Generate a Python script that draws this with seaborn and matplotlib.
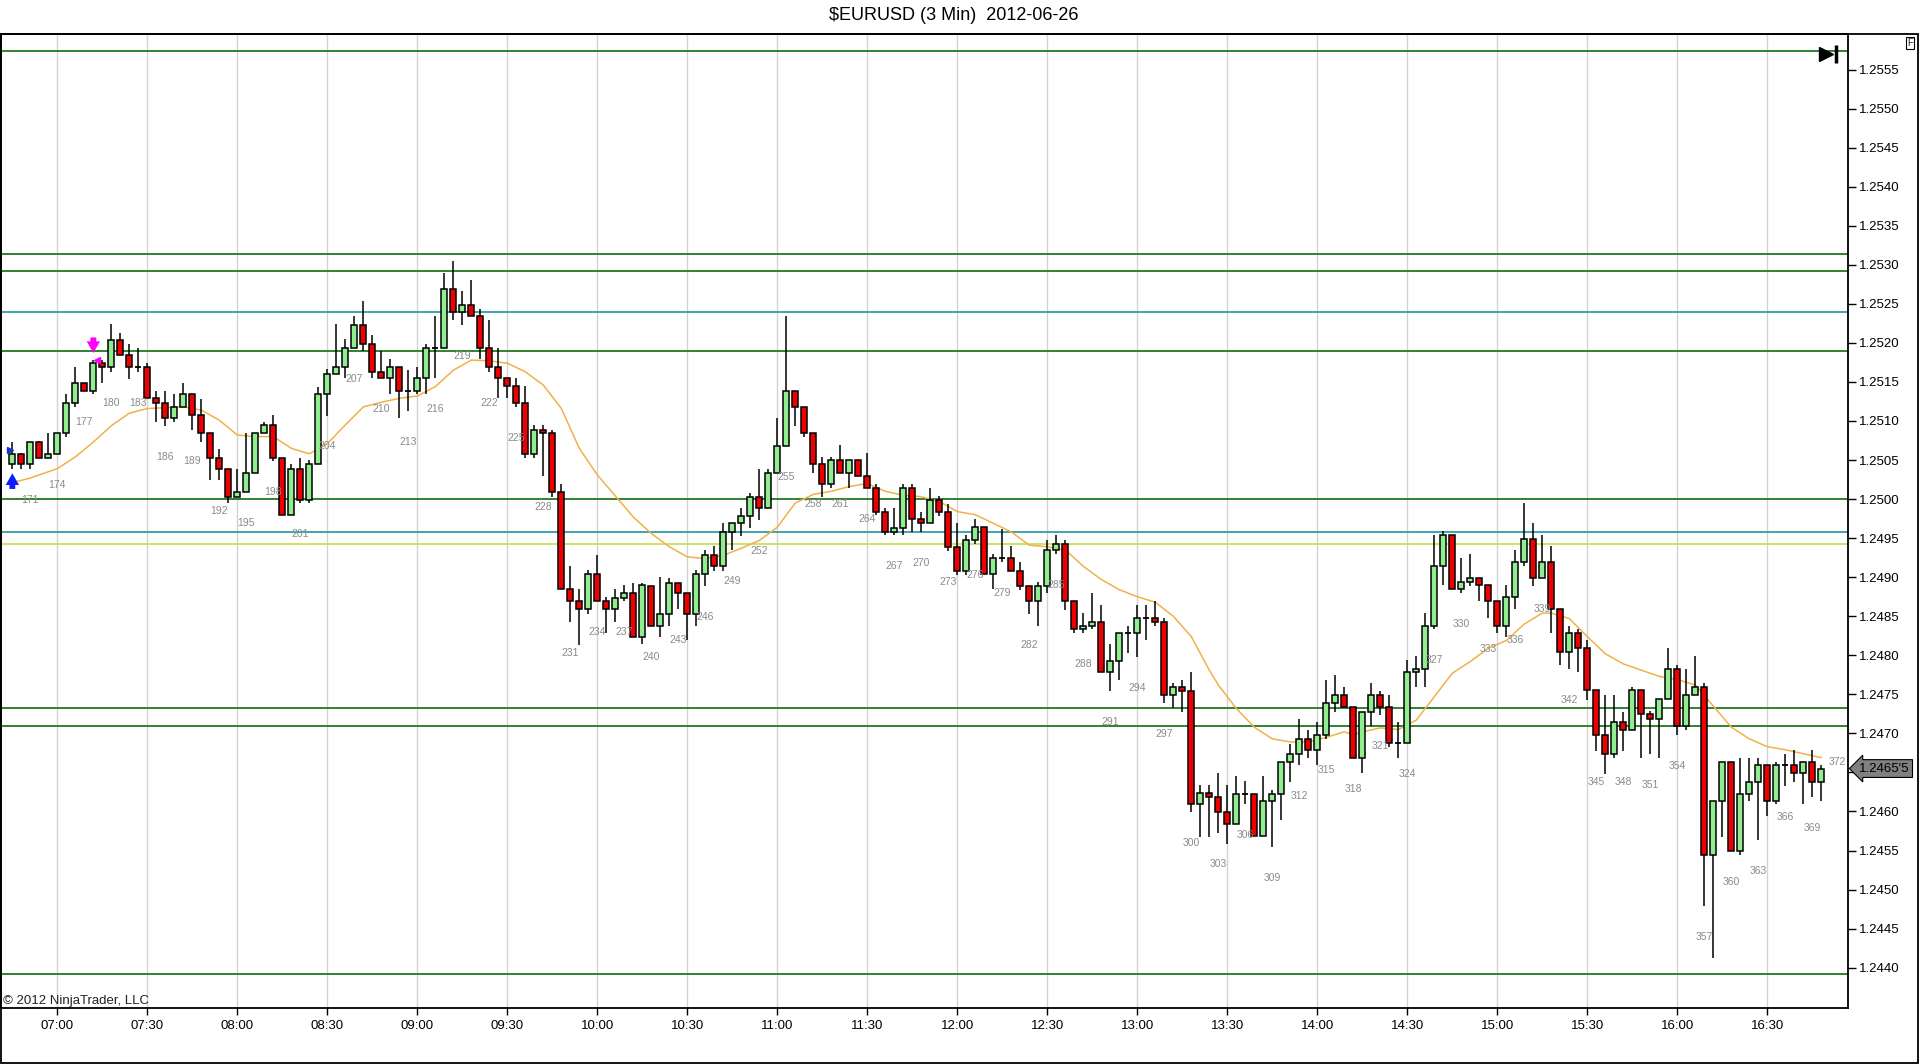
import matplotlib
matplotlib.use("Agg")
import matplotlib.pyplot as plt
from matplotlib.patches import Rectangle
from matplotlib.ticker import FixedLocator
from matplotlib.transforms import blended_transform_factory
import numpy as np
import pandas as pd
import seaborn as sns

# $EURUSD 3 min bars, 2012-06-26, bar numbers 169..370
first_bar = 169
session_start = "2012-06-26 06:45"

opens = [
    1.25045, 1.25058, 1.25045, 1.25073, 1.25053, 1.25058, 1.25084, 1.25123, 1.25149, 1.25139,
    1.25174, 1.25169, 1.25204, 1.25184, 1.25169, 1.25169, 1.25129, 1.25123, 1.25104, 1.25118,
    1.25134, 1.25108, 1.25084, 1.25053, 1.25039, 1.25003, 1.25009, 1.25034, 1.25084, 1.25095,
    1.25053, 1.24980, 1.25039, 1.24999, 1.25045, 1.25134, 1.25160, 1.25169, 1.25194, 1.25223,
    1.25199, 1.25163, 1.25155, 1.25169, 1.25139, 1.25139, 1.25155, 1.25194, 1.25194, 1.25269,
    1.25239, 1.25249, 1.25234, 1.25194, 1.25169, 1.25155, 1.25145, 1.25123, 1.25058, 1.25089,
    1.25084, 1.25009, 1.24885, 1.24869, 1.24859, 1.24904, 1.24869, 1.24859, 1.24874, 1.24880,
    1.24824, 1.24889, 1.24838, 1.24853, 1.24893, 1.24880, 1.24853, 1.24904, 1.24929, 1.24914,
    1.24958, 1.24969, 1.24978, 1.25003, 1.24989, 1.25034, 1.25068, 1.25139, 1.25118, 1.25084,
    1.25045, 1.25019, 1.25050, 1.25034, 1.25050, 1.25030, 1.25014, 1.24984, 1.24958, 1.24963,
    1.25014, 1.24974, 1.24969, 1.24999, 1.24984, 1.24939, 1.24908, 1.24948, 1.24964, 1.24904,
    1.24924, 1.24924, 1.24908, 1.24889, 1.24869, 1.24889, 1.24935, 1.24943, 1.24869, 1.24834,
    1.24838, 1.24843, 1.24779, 1.24793, 1.24829, 1.24829, 1.24848, 1.24848, 1.24843, 1.24749,
    1.24759, 1.24754, 1.24610, 1.24624, 1.24619, 1.24599, 1.24584, 1.24623, 1.24623, 1.24568,
    1.24614, 1.24623, 1.24664, 1.24673, 1.24693, 1.24679, 1.24698, 1.24739, 1.24749, 1.24734,
    1.24669, 1.24728, 1.24749, 1.24734, 1.24688, 1.24688, 1.24779, 1.24783, 1.24837, 1.24914,
    1.24954, 1.24885, 1.24894, 1.24899, 1.24890, 1.24869, 1.24837, 1.24875, 1.24919, 1.24949,
    1.24899, 1.24919, 1.24859, 1.24804, 1.24829, 1.24809, 1.24755, 1.24698, 1.24673, 1.24714,
    1.24704, 1.24755, 1.24725, 1.24719, 1.24744, 1.24783, 1.24709, 1.24749, 1.24759, 1.24544,
    1.24614, 1.24664, 1.24549, 1.24623, 1.24638, 1.24659, 1.24614, 1.24659, 1.24659, 1.24649,
    1.24664, 1.24638,
]
highs = [
    1.25073, 1.25059, 1.25073, 1.25074, 1.25084, 1.25084, 1.25134, 1.25169, 1.25149, 1.25178,
    1.25178, 1.25224, 1.25213, 1.25199, 1.25194, 1.25174, 1.25139, 1.25139, 1.25134, 1.25149,
    1.25134, 1.25128, 1.25084, 1.25064, 1.25039, 1.25039, 1.25084, 1.25084, 1.25099, 1.25108,
    1.25053, 1.25045, 1.25053, 1.25050, 1.25144, 1.25166, 1.25224, 1.25205, 1.25234, 1.25254,
    1.25210, 1.25189, 1.25179, 1.25169, 1.25165, 1.25169, 1.25199, 1.25234, 1.25289, 1.25305,
    1.25266, 1.25280, 1.25244, 1.25229, 1.25194, 1.25155, 1.25155, 1.25145, 1.25095, 1.25095,
    1.25089, 1.25019, 1.24914, 1.24885, 1.24909, 1.24929, 1.24875, 1.24885, 1.24890, 1.24893,
    1.24893, 1.24889, 1.24900, 1.24899, 1.24893, 1.24880, 1.24909, 1.24935, 1.24940, 1.24969,
    1.24969, 1.24989, 1.25008, 1.25039, 1.25039, 1.25104, 1.25234, 1.25139, 1.25118, 1.25084,
    1.25054, 1.25054, 1.25069, 1.25050, 1.25050, 1.25059, 1.25019, 1.24989, 1.24989, 1.25019,
    1.25019, 1.24984, 1.25014, 1.25004, 1.24994, 1.24969, 1.24954, 1.24974, 1.24964, 1.24930,
    1.24962, 1.24940, 1.24919, 1.24889, 1.24894, 1.24948, 1.24954, 1.24948, 1.24869, 1.24854,
    1.24880, 1.24865, 1.24814, 1.24829, 1.24838, 1.24865, 1.24864, 1.24869, 1.24848, 1.24764,
    1.24769, 1.24779, 1.24634, 1.24634, 1.24649, 1.24634, 1.24645, 1.24639, 1.24623, 1.24645,
    1.24628, 1.24664, 1.24687, 1.24719, 1.24704, 1.24714, 1.24769, 1.24775, 1.24759, 1.24734,
    1.24728, 1.24764, 1.24754, 1.24749, 1.24714, 1.24794, 1.24799, 1.24854, 1.24954, 1.24959,
    1.24954, 1.24924, 1.24930, 1.24899, 1.24890, 1.24869, 1.24890, 1.24935, 1.24995, 1.24970,
    1.24954, 1.24940, 1.24859, 1.24838, 1.24834, 1.24819, 1.24755, 1.24749, 1.24749, 1.24728,
    1.24759, 1.24755, 1.24729, 1.24744, 1.24809, 1.24788, 1.24783, 1.24799, 1.24764, 1.24614,
    1.24664, 1.24664, 1.24669, 1.24669, 1.24669, 1.24659, 1.24664, 1.24673, 1.24679, 1.24664,
    1.24679, 1.24659,
]
lows = [
    1.25039, 1.25039, 1.25039, 1.25053, 1.25053, 1.25058, 1.25079, 1.25118, 1.25139, 1.25134,
    1.25149, 1.25163, 1.25184, 1.25154, 1.25163, 1.25129, 1.25099, 1.25094, 1.25099, 1.25118,
    1.25089, 1.25073, 1.25024, 1.25024, 1.24995, 1.25003, 1.25009, 1.25034, 1.25084, 1.25049,
    1.24980, 1.24980, 1.24995, 1.24995, 1.25045, 1.25107, 1.25160, 1.25155, 1.25194, 1.25189,
    1.25155, 1.25155, 1.25134, 1.25104, 1.25113, 1.25134, 1.25134, 1.25155, 1.25194, 1.25229,
    1.25223, 1.25234, 1.25179, 1.25163, 1.25129, 1.25129, 1.25118, 1.25053, 1.25053, 1.25029,
    1.25003, 1.24885, 1.24843, 1.24813, 1.24853, 1.24869, 1.24829, 1.24843, 1.24869, 1.24824,
    1.24814, 1.24838, 1.24824, 1.24838, 1.24859, 1.24819, 1.24838, 1.24889, 1.24908, 1.24908,
    1.24935, 1.24953, 1.24963, 1.24973, 1.24989, 1.25034, 1.25068, 1.25093, 1.25079, 1.25034,
    1.25003, 1.25014, 1.25034, 1.25014, 1.25030, 1.25014, 1.24979, 1.24954, 1.24954, 1.24954,
    1.24958, 1.24958, 1.24969, 1.24978, 1.24934, 1.24903, 1.24903, 1.24943, 1.24904, 1.24885,
    1.24919, 1.24908, 1.24884, 1.24853, 1.24837, 1.24880, 1.24930, 1.24858, 1.24829, 1.24829,
    1.24834, 1.24779, 1.24754, 1.24769, 1.24803, 1.24798, 1.24819, 1.24837, 1.24739, 1.24733,
    1.24728, 1.24599, 1.24567, 1.24567, 1.24572, 1.24559, 1.24584, 1.24610, 1.24568, 1.24568,
    1.24554, 1.24589, 1.24638, 1.24659, 1.24669, 1.24659, 1.24693, 1.24728, 1.24734, 1.24669,
    1.24649, 1.24709, 1.24724, 1.24683, 1.24669, 1.24688, 1.24759, 1.24759, 1.24834, 1.24890,
    1.24885, 1.24880, 1.24889, 1.24869, 1.24848, 1.24829, 1.24824, 1.24859, 1.24914, 1.24889,
    1.24899, 1.24829, 1.24788, 1.24782, 1.24779, 1.24743, 1.24678, 1.24648, 1.24669, 1.24678,
    1.24704, 1.24669, 1.24673, 1.24669, 1.24744, 1.24698, 1.24704, 1.24749, 1.24479, 1.24413,
    1.24567, 1.24549, 1.24544, 1.24614, 1.24564, 1.24594, 1.24609, 1.24633, 1.24638, 1.24609,
    1.24619, 1.24614,
]
closes = [
    1.25058, 1.25045, 1.25073, 1.25053, 1.25058, 1.25084, 1.25123, 1.25149, 1.25139, 1.25174,
    1.25169, 1.25204, 1.25184, 1.25169, 1.25169, 1.25129, 1.25123, 1.25104, 1.25118, 1.25134,
    1.25108, 1.25084, 1.25053, 1.25039, 1.25003, 1.25009, 1.25034, 1.25084, 1.25095, 1.25053,
    1.24980, 1.25039, 1.24999, 1.25045, 1.25134, 1.25160, 1.25169, 1.25194, 1.25223, 1.25199,
    1.25163, 1.25155, 1.25169, 1.25139, 1.25139, 1.25155, 1.25194, 1.25194, 1.25269, 1.25239,
    1.25249, 1.25234, 1.25194, 1.25169, 1.25155, 1.25145, 1.25123, 1.25058, 1.25089, 1.25084,
    1.25009, 1.24885, 1.24869, 1.24859, 1.24904, 1.24869, 1.24859, 1.24874, 1.24880, 1.24824,
    1.24890, 1.24838, 1.24853, 1.24893, 1.24880, 1.24853, 1.24904, 1.24929, 1.24914, 1.24958,
    1.24969, 1.24978, 1.25003, 1.24989, 1.25034, 1.25068, 1.25139, 1.25118, 1.25084, 1.25045,
    1.25019, 1.25050, 1.25034, 1.25050, 1.25030, 1.25014, 1.24984, 1.24958, 1.24963, 1.25014,
    1.24974, 1.24969, 1.24999, 1.24984, 1.24939, 1.24908, 1.24948, 1.24964, 1.24904, 1.24924,
    1.24924, 1.24908, 1.24889, 1.24869, 1.24889, 1.24935, 1.24943, 1.24869, 1.24834, 1.24838,
    1.24843, 1.24779, 1.24793, 1.24829, 1.24829, 1.24848, 1.24848, 1.24843, 1.24749, 1.24759,
    1.24754, 1.24610, 1.24624, 1.24619, 1.24599, 1.24584, 1.24623, 1.24623, 1.24568, 1.24614,
    1.24623, 1.24664, 1.24673, 1.24693, 1.24679, 1.24698, 1.24739, 1.24749, 1.24734, 1.24669,
    1.24728, 1.24749, 1.24734, 1.24688, 1.24688, 1.24779, 1.24783, 1.24837, 1.24914, 1.24954,
    1.24885, 1.24894, 1.24899, 1.24890, 1.24869, 1.24837, 1.24875, 1.24919, 1.24949, 1.24899,
    1.24919, 1.24859, 1.24804, 1.24829, 1.24809, 1.24755, 1.24698, 1.24673, 1.24714, 1.24704,
    1.24755, 1.24725, 1.24719, 1.24744, 1.24783, 1.24709, 1.24749, 1.24759, 1.24544, 1.24614,
    1.24664, 1.24549, 1.24623, 1.24638, 1.24659, 1.24614, 1.24659, 1.24659, 1.24649, 1.24664,
    1.24638, 1.24655,
]

# moving average line at these bars
ma_bars = [
    169, 171, 173, 174, 176, 178, 180, 182, 184, 186, 188, 190, 192, 194, 196, 198, 200, 202,
    204, 206, 208, 210, 212, 214, 216, 218, 220, 222, 224, 226, 228, 230, 232, 234, 236, 238,
    240, 242, 244, 246, 248, 250, 252, 254, 256, 258, 260, 262, 264, 266, 268, 270, 272, 274,
    276, 278, 280, 282, 284, 286, 288, 290, 292, 294, 296, 298, 300, 302, 303, 305, 307, 309,
    311, 313, 315, 317, 318, 319, 321, 323, 325, 327, 329, 331, 333, 335, 337, 338, 339, 340,
    342, 344, 346, 348, 350, 352, 354, 356, 358, 360, 362, 364, 366, 368, 370,
]
ma_values = [
    1.25021, 1.25027, 1.25035, 1.25039, 1.25054, 1.25073, 1.25094, 1.25110, 1.25116, 1.25117,
    1.25118, 1.25114, 1.25101, 1.25082, 1.25080, 1.25080, 1.25065, 1.25058, 1.25071, 1.25095,
    1.25118, 1.25124, 1.25129, 1.25132, 1.25144, 1.25165, 1.25178, 1.25177, 1.25174, 1.25163,
    1.25146, 1.25116, 1.25065, 1.25031, 1.25004, 1.24977, 1.24956, 1.24939, 1.24926, 1.24924,
    1.24928, 1.24937, 1.24947, 1.24964, 1.24995, 1.25006, 1.25010, 1.25016, 1.25020, 1.25010,
    1.25005, 1.25003, 1.24997, 1.24984, 1.24980, 1.24969, 1.24958, 1.24941, 1.24939, 1.24935,
    1.24914, 1.24897, 1.24884, 1.24875, 1.24868, 1.24850, 1.24824, 1.24781, 1.24762, 1.24732,
    1.24708, 1.24693, 1.24689, 1.24689, 1.24695, 1.24702, 1.24698, 1.24702, 1.24707, 1.24705,
    1.24717, 1.24747, 1.24777, 1.24792, 1.24809, 1.24819, 1.24840, 1.24847, 1.24854, 1.24854,
    1.24847, 1.24824, 1.24802, 1.24789, 1.24781, 1.24773, 1.24769, 1.24762, 1.24735, 1.24708,
    1.24693, 1.24683, 1.24679, 1.24674, 1.24669,
]

# horizontal price levels drawn on the chart
level_prices = [1.25574, 1.25314, 1.25292, 1.25240, 1.25189, 1.25000,
                1.24958, 1.24942, 1.24732, 1.24709, 1.24392]
level_kinds = ["g", "g", "g", "t", "g", "g", "t", "y", "g", "g", "g"]
kind_colors = {"g": "#1f7a1f", "t": "#2f9ea4", "y": "#c6e35c"}

# price axis labels
price_ticks = ["1.2440", "1.2445", "1.2450", "1.2455", "1.2460", "1.2465", "1.2470", "1.2475",
               "1.2480", "1.2485", "1.2490", "1.2495", "1.2500", "1.2505", "1.2510", "1.2515",
               "1.2520", "1.2525", "1.2530", "1.2535", "1.2540", "1.2545", "1.2550", "1.2555"]

# signal markers: long entry at bar 169, short signal at bar 178
long_bar, short_bar = 169, 178

sns.set_theme(style="white")
plt.rcParams["font.family"] = ["Liberation Sans", "DejaVu Sans"]

df = pd.DataFrame({"open": opens, "high": highs, "low": lows, "close": closes})
df["bar"] = np.arange(first_bar, first_bar + len(df))
df["time"] = pd.date_range(session_start, periods=len(df), freq="3min")

W, H = 1920, 1064
fig = plt.figure(figsize=(W / 100, H / 100), dpi=100)
fig.patch.set_facecolor("white")
ax = fig.add_axes([1 / W, 56 / H, 1847 / W, 974 / H])
ax.set_facecolor("white")

# levels
for p, k in zip(level_prices, level_kinds):
    ax.axhline(p, color=kind_colors[k], lw=1.3, zorder=1)

# moving average
sns.lineplot(x=ma_bars, y=ma_values, ax=ax, color="#f2b04a", lw=1.1, zorder=1.5)

# candles
up = df.close > df.open
down = df.close < df.open
flat = df.close == df.open
body_w = 0.66
ax.vlines(df.bar, df.low, df.high, color="black", lw=1.1, zorder=2)
ax.bar(df.bar[up], (df.close - df.open)[up], bottom=df.open[up], width=body_w,
       color="#90ee90", edgecolor="black", linewidth=1.1, zorder=3)
ax.bar(df.bar[down], (df.open - df.close)[down], bottom=df.close[down], width=body_w,
       color="#ee0000", edgecolor="black", linewidth=1.1, zorder=3)
ax.hlines(df.open[flat], df.bar[flat] - body_w / 2, df.bar[flat] + body_w / 2,
          color="black", lw=1.3, zorder=3)

# bar numbers every 3rd bar
for _, r in df[df.bar % 3 == 0].iterrows():
    ax.annotate(str(r.bar), xy=(r.bar, r.low), xytext=(0, -22.3), textcoords="offset points",
                ha="center", va="center", fontsize=7.5, color="#8a8a8a", zorder=4)
last = df.iloc[-1]
ax.annotate(str(int(last.bar) + 2), xy=(last.bar, last.close), xytext=(11.3, 4.9),
            textcoords="offset points", ha="center", va="center", fontsize=7.5,
            color="#8a8a8a", annotation_clip=False)

# signal arrows
lb = df[df.bar == long_bar].iloc[0]
sb = df[df.bar == short_bar].iloc[0]
ax.annotate("", xy=(long_bar, lb.low - 0.00006), xytext=(long_bar, lb.low - 0.00026),
            arrowprops=dict(arrowstyle="simple,head_length=0.7,head_width=0.8,tail_width=0.35",
                            color="#0a1eff", lw=0, shrinkA=0, shrinkB=0, mutation_scale=12),
            zorder=5)
ax.plot([long_bar - 0.3], [lb.high - 0.0001], marker=">", color="#1a2fd0", ms=5, zorder=5)
ax.annotate("", xy=(short_bar, sb.high + 0.00009), xytext=(short_bar, sb.high + 0.00029),
            arrowprops=dict(arrowstyle="simple,head_length=0.7,head_width=0.8,tail_width=0.35",
                            color="#ff00ff", lw=0, shrinkA=0, shrinkB=0, mutation_scale=12),
            zorder=5)
ax.plot([short_bar + 0.45], [sb.close + 0.00004], marker="<", color="#ff00ff", ms=5, zorder=5)

# axes, ticks
ax.set_xlim(167.74, 372.97)
ax.set_ylim(1.243484, 1.255955)
half_hours = df[df.time.dt.minute % 30 == 0]
ax.set_xticks(half_hours.bar)
ax.set_xticklabels(half_hours.time.dt.strftime("%H:%M"))
ax.grid(axis="x", color="#d2d2d2", lw=1, zorder=0)
ax.grid(axis="y", visible=False)
ax.yaxis.tick_right()
tick_vals = [float(t) for t in price_ticks]
ax.yaxis.set_major_locator(FixedLocator(tick_vals))
# the tick hidden under the last-price tag
hidden = min(range(len(tick_vals)), key=lambda i: abs(tick_vals[i] - last.close))
ax.set_yticklabels(["" if i == hidden else t for i, t in enumerate(price_ticks)])
ax.tick_params(axis="y", right=True, left=False, length=6, width=1, pad=2,
               labelsize=9.5, colors="black")
ax.tick_params(axis="x", bottom=True, length=5, width=1, pad=3.5,
               labelsize=9.5, colors="black")
ax.set_xlabel("")
ax.set_ylabel("")
for s in ax.spines.values():
    s.set_visible(True)
    s.set_color("black")
    s.set_linewidth(1.3)

# last price tag
tag = f"{last.close:.5f}"
tag = tag[:-1] + "'" + tag[-1]
tr = blended_transform_factory(ax.transAxes, ax.transData)
ax.annotate(tag, xy=(1, last.close), xycoords=tr, xytext=(8, 0), textcoords="offset points",
            ha="left", va="center", fontsize=9.5, color="black", annotation_clip=False,
            bbox=dict(boxstyle="larrow,pad=0.22", fc="#808080", ec="black", lw=0.8),
            zorder=6)

# chart furniture
ax.text(0.001, 0.0075, "\u00a9 2012 NinjaTrader, LLC", transform=ax.transAxes,
        ha="left", va="center", fontsize=9.5, color="#222222")
ax.plot([0.988], [0.9795], marker=">", color="black", ms=10, transform=ax.transAxes,
        clip_on=False)
ax.plot([0.9935], [0.9795], marker="|", color="black", ms=13, mew=2.5,
        transform=ax.transAxes, clip_on=False)
fig.text(0.497, 1 - 16 / H, r"\$EURUSD (3 Min)  2012-06-26", ha="center", va="center",
         fontsize=13, color="black")
fig.text(1910 / W, 1 - 43 / H, "F", ha="center", va="center", fontsize=7,
         bbox=dict(boxstyle="square,pad=0.15", fc="white", ec="black", lw=0.8))
fig.add_artist(Rectangle((0.5 / W, 1 / H), 1917.5 / W, 1029 / H, transform=fig.transFigure,
                         fill=False, ec="black", lw=1.3))

fig.savefig("out.png", dpi=100, facecolor="white")
